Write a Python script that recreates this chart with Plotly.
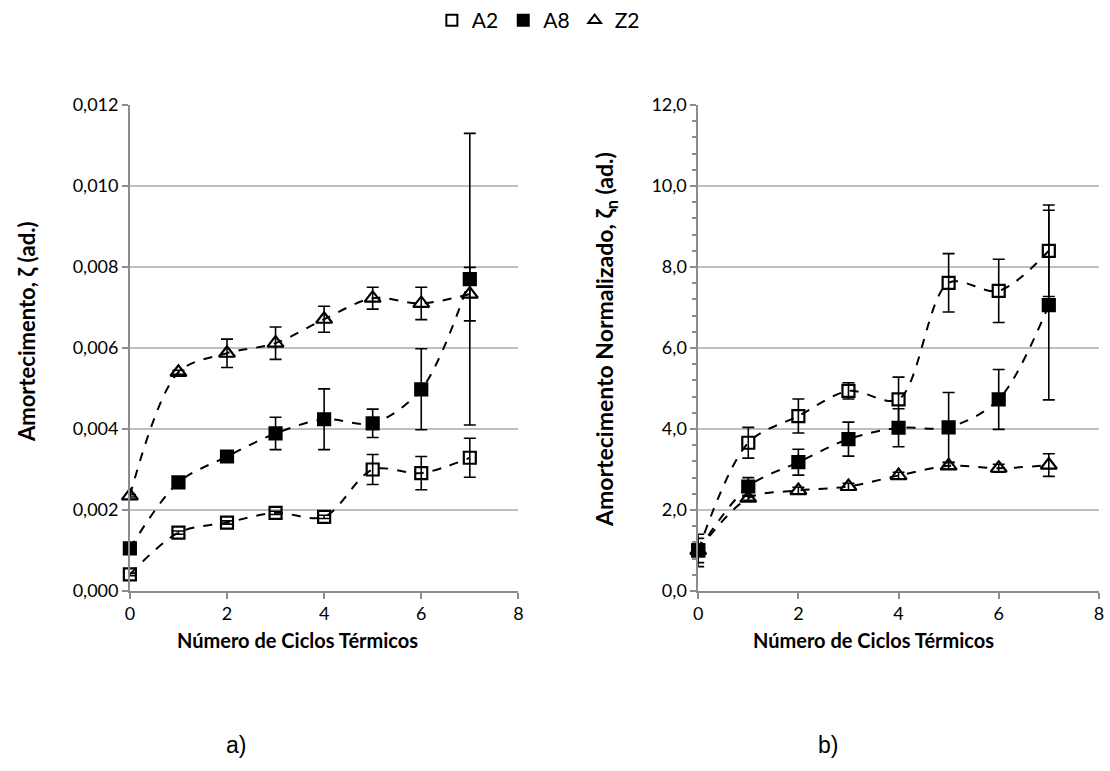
import plotly.graph_objects as go

ciclos = [0, 1, 2, 3, 4, 5, 6, 7]

# Panel a) Amortecimento
a2_zeta = [0.00041, 0.00144, 0.00169, 0.00193, 0.00183, 0.00300, 0.00291, 0.00329]
a2_zeta_err = [0.00003, 0.00004, 0.00004, 0.00004, 0.00004, 0.00037, 0.00041, 0.00048]
a8_zeta = [0.00105, 0.00268, 0.00332, 0.00389, 0.00424, 0.00414, 0.00498, 0.00770]
a8_zeta_err = [0.00005, 0.00005, 0.00012, 0.00040, 0.00075, 0.00035, 0.00100, 0.00360]
z2_zeta = [0.00235, 0.00540, 0.00587, 0.00612, 0.00671, 0.00723, 0.00710, 0.00733]
z2_zeta_err = [0.00003, 0.00005, 0.00035, 0.00040, 0.00032, 0.00027, 0.00040, 0.00066]

# Panel b) Amortecimento normalizado
a2_norm = [1.00, 3.66, 4.32, 4.94, 4.73, 7.61, 7.41, 8.40]
a2_norm_err = [0.40, 0.38, 0.42, 0.20, 0.55, 0.72, 0.78, 1.13]
a8_norm = [1.00, 2.58, 3.18, 3.75, 4.03, 4.04, 4.73, 7.06]
a8_norm_err = [0.30, 0.22, 0.32, 0.42, 0.47, 0.86, 0.74, 2.34]
z2_norm = [1.00, 2.29, 2.48, 2.58, 2.85, 3.09, 3.03, 3.11]
z2_norm_err = [0.10, 0.05, 0.08, 0.08, 0.08, 0.08, 0.10, 0.28]

series_names = ["A2", "A8", "Z2"]
symbols = ["square-open", "square", "triangle-up-open"]
sizes = [12, 12, 14]

x_title = "Número de Ciclos Térmicos"
y_title_a = "Amortecimento, ζ (ad.)"
y_title_b = "Amortecimento Normalizado, ζ<sub>n</sub> (ad.)"

FONT = "Lato, Open Sans, sans-serif"
GRID = "#bfbfbf"
AXIS = "#8c8c8c"
W, H = 1110, 771

fig = go.Figure()

panels = [
    ("x", "y", [a2_zeta, a8_zeta, z2_zeta], [a2_zeta_err, a8_zeta_err, z2_zeta_err]),
    ("x2", "y2", [a2_norm, a8_norm, z2_norm], [a2_norm_err, a8_norm_err, z2_norm_err]),
]

for xa, ya, vals, errs in panels:
    for name, sym, sz, v, e in zip(series_names, symbols, sizes, vals, errs):
        fig.add_trace(go.Scatter(
            x=ciclos, y=v, xaxis=xa, yaxis=ya,
            mode="lines+markers", name=name, showlegend=False, cliponaxis=False,
            line=dict(color="black", width=2, dash="dash", shape="spline", smoothing=0.9),
            marker=dict(symbol=sym, size=sz, color="black",
                        line=dict(color="black", width=2.2)),
            error_y=dict(type="data", array=e, visible=True, color="black",
                         thickness=1.6, width=6),
        ))

# legend-only entries (markers only)
for name, sym in zip(series_names, symbols):
    fig.add_trace(go.Scatter(
        x=[None], y=[None], mode="markers", name=name, showlegend=True,
        marker=dict(symbol=sym, size=11, color="black", line=dict(color="black", width=2)),
    ))

common_x = dict(
    range=[0, 8], dtick=2, tick0=0, showgrid=False, showline=True, automargin=False,
    linecolor=AXIS, linewidth=1.5, ticks="outside", ticklen=6, tickcolor=AXIS,
    tickwidth=1.5, zeroline=False,
    tickfont=dict(family=FONT, size=18, color="black"),
)
common_y = dict(
    showgrid=True, gridcolor=GRID, gridwidth=1.5, showline=True, automargin=False,
    linecolor=AXIS, linewidth=1.5, ticks="outside", ticklen=6, tickcolor=AXIS,
    tickwidth=1.5, zeroline=False,
    tickfont=dict(family=FONT, size=18, color="black"),
)

fig.update_layout(
    width=W, height=H, autosize=False,
    margin=dict(l=0, r=0, t=0, b=0),
    paper_bgcolor="white", plot_bgcolor="white",
    separators=",.",
    showlegend=True,
    legend=dict(orientation="h", x=0.485, xanchor="center", y=1.0, yanchor="top",
                font=dict(family=FONT, size=21, color="black"),
                itemwidth=30, tracegroupgap=0, bgcolor="rgba(0,0,0,0)"),
    xaxis=dict(domain=[0.117, 0.467], anchor="y", **common_x),
    xaxis2=dict(domain=[0.629, 0.990], anchor="y2", **common_x),
    yaxis=dict(domain=[0.2335, 0.8638], anchor="x", range=[0, 0.012], dtick=0.002,
               tickformat=".3f", **common_y),
    yaxis2=dict(domain=[0.2335, 0.8638], anchor="x2", range=[0, 12], dtick=2,
                tickformat=".1f",
                minor=dict(ticks="outside", dtick=0.4, ticklen=4, tickcolor=AXIS,
                           tickwidth=1.5, showgrid=False),
                **common_y),
)

def px_x(p):
    return p / W

def px_y(p):
    return 1 - p / H

# axis titles
for cx in (297, 873):
    fig.add_annotation(text="<b>" + x_title + "</b>", x=px_x(cx), y=px_y(640),
                       xref="paper", yref="paper", showarrow=False,
                       xanchor="center", yanchor="middle",
                       font=dict(family=FONT, size=20, color="black"))
fig.add_annotation(text="<b>" + y_title_a + "</b>", x=px_x(26), y=px_y(332),
                   xref="paper", yref="paper", showarrow=False, textangle=-90,
                   xanchor="center", yanchor="middle",
                   font=dict(family=FONT, size=22, color="black"))
fig.add_annotation(text="<b>" + y_title_b + "</b>", x=px_x(605), y=px_y(340),
                   xref="paper", yref="paper", showarrow=False, textangle=-90,
                   xanchor="center", yanchor="middle",
                   font=dict(family=FONT, size=23, color="black"))

fig.add_annotation(text="a)", x=px_x(236), y=px_y(745), xref="paper", yref="paper",
                   showarrow=False, xanchor="center", yanchor="middle",
                   font=dict(family="Liberation Sans, Arial, sans-serif", size=23, color="black"))
fig.add_annotation(text="b)", x=px_x(828), y=px_y(745), xref="paper", yref="paper",
                   showarrow=False, xanchor="center", yanchor="middle",
                   font=dict(family="Liberation Sans, Arial, sans-serif", size=23, color="black"))

fig.write_html("out.html")
